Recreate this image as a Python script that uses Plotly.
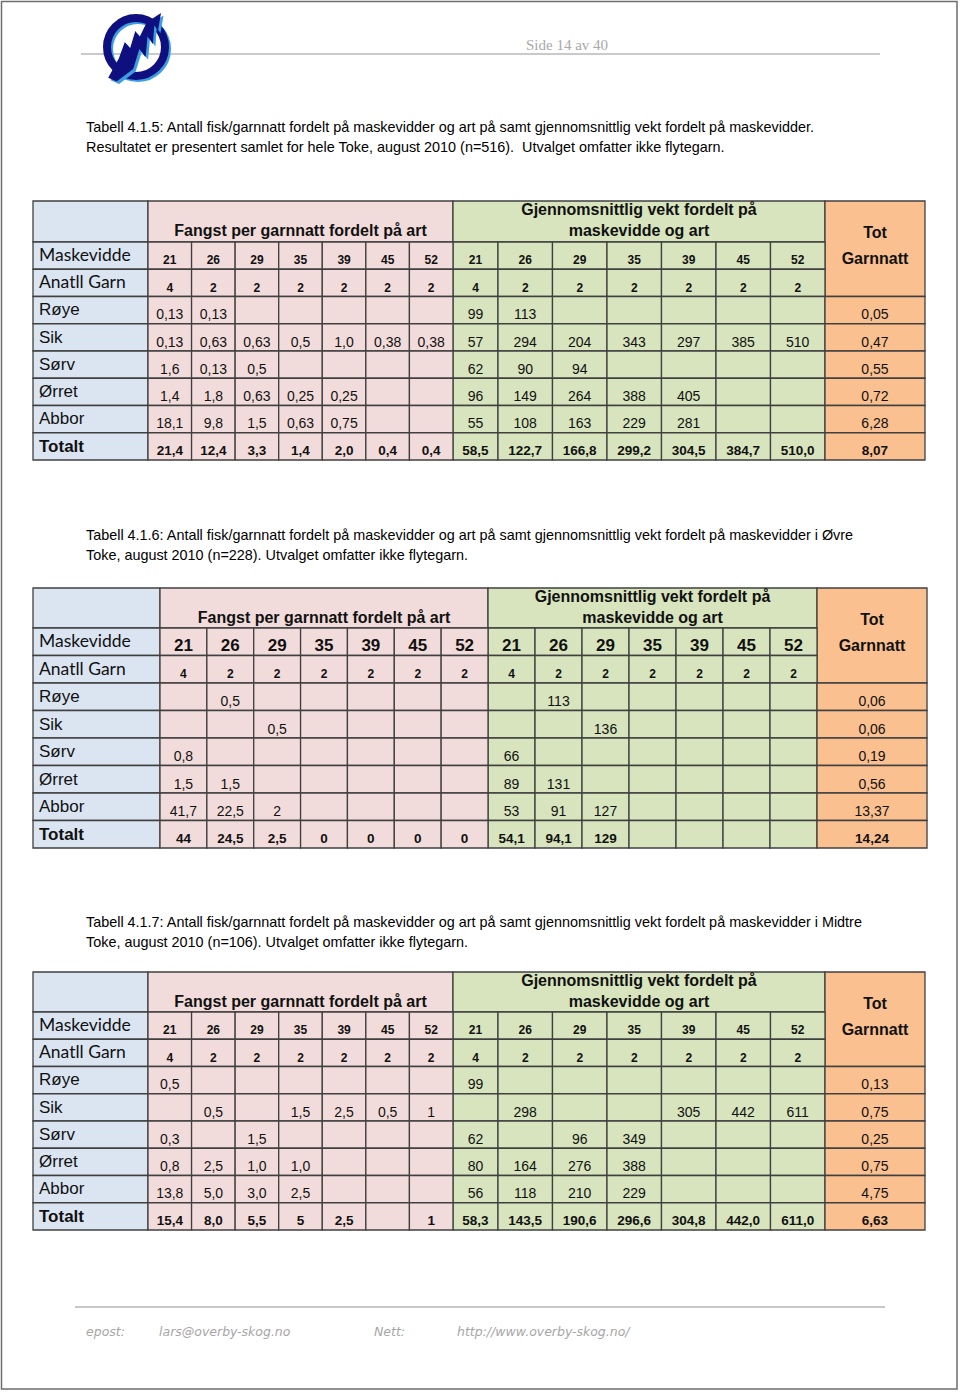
import plotly.graph_objects as go

W, H = 960, 1393

# ---------------- data ----------------
maskevidde = [21, 26, 29, 35, 39, 45, 52]
antall_garn = [4, 2, 2, 2, 2, 2, 2]
arter = ["Røye", "Sik", "Sørv", "Ørret", "Abbor"]

# Tabell 4.1.5 - hele Toke
t5_fangst = [
    ["0,13", "0,13", "", "", "", "", ""],
    ["0,13", "0,63", "0,63", "0,5", "1,0", "0,38", "0,38"],
    ["1,6", "0,13", "0,5", "", "", "", ""],
    ["1,4", "1,8", "0,63", "0,25", "0,25", "", ""],
    ["18,1", "9,8", "1,5", "0,63", "0,75", "", ""],
]
t5_fangst_sum = ["21,4", "12,4", "3,3", "1,4", "2,0", "0,4", "0,4"]
t5_vekt = [
    ["99", "113", "", "", "", "", ""],
    ["57", "294", "204", "343", "297", "385", "510"],
    ["62", "90", "94", "", "", "", ""],
    ["96", "149", "264", "388", "405", "", ""],
    ["55", "108", "163", "229", "281", "", ""],
]
t5_vekt_sum = ["58,5", "122,7", "166,8", "299,2", "304,5", "384,7", "510,0"]
t5_garnnatt = ["0,05", "0,47", "0,55", "0,72", "6,28", "8,07"]

# Tabell 4.1.6 - Øvre Toke
t6_fangst = [
    ["", "0,5", "", "", "", "", ""],
    ["", "", "0,5", "", "", "", ""],
    ["0,8", "", "", "", "", "", ""],
    ["1,5", "1,5", "", "", "", "", ""],
    ["41,7", "22,5", "2", "", "", "", ""],
]
t6_fangst_sum = ["44", "24,5", "2,5", "0", "0", "0", "0"]
t6_vekt = [
    ["", "113", "", "", "", "", ""],
    ["", "", "136", "", "", "", ""],
    ["66", "", "", "", "", "", ""],
    ["89", "131", "", "", "", "", ""],
    ["53", "91", "127", "", "", "", ""],
]
t6_vekt_sum = ["54,1", "94,1", "129", "", "", "", ""]
t6_garnnatt = ["0,06", "0,06", "0,19", "0,56", "13,37", "14,24"]

# Tabell 4.1.7 - Midtre Toke
t7_fangst = [
    ["0,5", "", "", "", "", "", ""],
    ["", "0,5", "", "1,5", "2,5", "0,5", "1"],
    ["0,3", "", "1,5", "", "", "", ""],
    ["0,8", "2,5", "1,0", "1,0", "", "", ""],
    ["13,8", "5,0", "3,0", "2,5", "", "", ""],
]
t7_fangst_sum = ["15,4", "8,0", "5,5", "5", "2,5", "", "1"]
t7_vekt = [
    ["99", "", "", "", "", "", ""],
    ["", "298", "", "", "305", "442", "611"],
    ["62", "", "96", "349", "", "", ""],
    ["80", "164", "276", "388", "", "", ""],
    ["56", "118", "210", "229", "", "", ""],
]
t7_vekt_sum = ["58,3", "143,5", "190,6", "296,6", "304,8", "442,0", "611,0"]
t7_garnnatt = ["0,13", "0,75", "0,25", "0,75", "4,75", "6,63"]

captions = [
    ["Tabell 4.1.5: Antall fisk/garnnatt fordelt på maskevidder og art på samt gjennomsnittlig vekt fordelt på maskevidder.",
     "Resultatet er presentert samlet for hele Toke, august 2010 (n=516).  Utvalget omfatter ikke flytegarn."],
    ["Tabell 4.1.6: Antall fisk/garnnatt fordelt på maskevidder og art på samt gjennomsnittlig vekt fordelt på maskevidder i Øvre",
     "Toke, august 2010 (n=228). Utvalget omfatter ikke flytegarn."],
    ["Tabell 4.1.7: Antall fisk/garnnatt fordelt på maskevidder og art på samt gjennomsnittlig vekt fordelt på maskevidder i Midtre",
     "Toke, august 2010 (n=106). Utvalget omfatter ikke flytegarn."],
]

# ---------------- style ----------------
BLUE = "#dbe5f1"
PINK = "#f2dcdb"
GREEN = "#d7e4bd"
ORANGE = "#fac090"
LINE = "#404040"
ARIAL = "Liberation Sans, Arial, sans-serif"
CALIBRI = "Lato, Carlito, Calibri, sans-serif"

fig = go.Figure()
texts = {}


def put(style, x, y, s):
    if s == "":
        return
    xs, ys, ts = texts.setdefault(style, ([], [], []))
    xs.append(x)
    ys.append(y)
    ts.append(s)


def cell(x0, x1, y0, y1, color):
    fig.add_shape(type="rect", xref="x", yref="y", x0=x0, x1=x1, y0=y0, y1=y1,
                  fillcolor=color, line=dict(color=LINE, width=1.3), layer="below")


def table(top, left, label_w, fw, vw, tot_w, head_h, row_h, mask_size,
          fangst, fangst_sum, vekt, vekt_sum, garnnatt):
    fx = [left + label_w]
    for w in fw:
        fx.append(fx[-1] + w)
    vx = [fx[-1]]
    for w in vw:
        vx.append(vx[-1] + w)
    tx0, tx1 = vx[-1], vx[-1] + tot_w
    ys = [top, top + head_h]
    for i in range(8):
        ys.append(ys[-1] + row_h)

    # header cells
    cell(left, fx[0], ys[0], ys[1], BLUE)
    cell(fx[0], fx[-1], ys[0], ys[1], PINK)
    cell(vx[0], vx[-1], ys[0], ys[1], GREEN)
    cell(tx0, tx1, ys[0], ys[3], ORANGE)
    put(("b", 16, ARIAL, "middle center"), (fx[0] + fx[-1]) / 2, top + 31,
        "Fangst per garnnatt fordelt på art")
    put(("b", 16, ARIAL, "middle center"), (vx[0] + vx[-1]) / 2, top + 20.5,
        "Gjennomsnittlig vekt fordelt på<br>maskevidde og art")
    put(("b", 16, ARIAL, "middle center"), (tx0 + tx1) / 2, top + 33, "Tot")
    put(("b", 16, ARIAL, "middle center"), (tx0 + tx1) / 2, top + 59, "Garnnatt")

    labels = ["Maskevidde", "Anatll Garn"] + arter + ["Totalt"]
    rows = ([[str(m) for m in maskevidde] * 2, [str(g) for g in antall_garn] * 2]
            + [fangst[i] + vekt[i] for i in range(5)]
            + [fangst_sum + vekt_sum])
    for r in range(8):
        y0, y1 = ys[r + 1], ys[r + 2]
        cell(left, fx[0], y0, y1, BLUE)
        for c in range(7):
            cell(fx[c], fx[c + 1], y0, y1, PINK)
            cell(vx[c], vx[c + 1], y0, y1, GREEN)
        if r >= 2:
            cell(tx0, tx1, y0, y1, ORANGE)

        if r < 2:
            lab_style = ("n", 17.5, CALIBRI, "middle right")
        elif r == 7:
            lab_style = ("b", 17, ARIAL, "middle right")
        else:
            lab_style = ("n", 17, ARIAL, "middle right")
        put(lab_style, left + 6, (y0 + y1) / 2 + 1, labels[r])

        if r == 0:
            st = ("b", mask_size, ARIAL, "middle center")
        elif r == 1:
            st = ("b", 12, ARIAL, "middle center")
        elif r == 7:
            st = ("b", 13.5, ARIAL, "middle center")
        else:
            st = ("n", 14, ARIAL, "middle center")
        yt = y1 - 8 if mask_size < 15 or r > 0 else y1 - 9
        edges = fx[:-1] + vx[:-1]
        rights = fx[1:] + vx[1:]
        for c in range(14):
            put(st, (edges[c] + rights[c]) / 2, yt, rows[r][c])
        if r >= 2:
            put(st, (tx0 + tx1) / 2, yt, garnnatt[r - 2])


table(201, 33, 115, [43.57] * 7, [45] + [54.5] * 6, 100, 41, 27.25, 12,
      t5_fangst, t5_fangst_sum, t5_vekt, t5_vekt_sum, t5_garnnatt)
table(588, 33, 127, [46.86] * 7, [47] * 7, 110, 40, 27.5, 17,
      t6_fangst, t6_fangst_sum, t6_vekt, t6_vekt_sum, t6_garnnatt)
table(972, 33, 115, [43.57] * 7, [45] + [54.5] * 6, 100, 40, 27.25, 12,
      t7_fangst, t7_fangst_sum, t7_vekt, t7_vekt_sum, t7_garnnatt)

for (bold, size, family, pos), (xs, ys, ts) in texts.items():
    if bold == "b":
        ts = ["<b>" + t + "</b>" for t in ts]
    fig.add_trace(go.Scatter(
        x=xs, y=ys, text=ts, mode="text", textposition=pos,
        textfont=dict(family=family, size=size, color="#111111"),
        hoverinfo="skip", showlegend=False, cliponaxis=False))

# captions
for (l1, l2), y in zip(captions, [127, 535, 922]):
    for line, dy in [(l1, 0), (l2, 20)]:
        fig.add_annotation(x=84, y=y + dy, xref="x", yref="y", text=line,
                           showarrow=False, xanchor="left", yanchor="middle",
                           font=dict(family=ARIAL, size=14.4, color="#000000"))

# page furniture
fig.add_shape(type="rect", x0=1.5, x1=957, y0=1.5, y1=1389, xref="x", yref="y",
              line=dict(color="#6e6e6e", width=1.5), layer="below")
fig.add_shape(type="line", x0=81, x1=880, y0=54, y1=54, xref="x", yref="y",
              line=dict(color="#b8b8b8", width=1.5))
fig.add_shape(type="line", x0=75, x1=885, y0=1307, y1=1307, xref="x", yref="y",
              line=dict(color="#c8c8c8", width=2))
fig.add_annotation(x=567, y=45, xref="x", yref="y", text="Side 14 av 40", showarrow=False,
                   font=dict(family="Liberation Serif, serif", size=15, color="#a8a8a8"))
for txt, x in [("epost:", 84), ("lars@overby-skog.no", 157), ("Nett:", 372),
               ("http://www.overby-skog.no/", 455)]:
    fig.add_annotation(x=x, y=1331, xref="x", yref="y", text="<i>" + txt + "</i>",
                       showarrow=False, xanchor="left", yanchor="middle",
                       font=dict(family="DejaVu Sans, sans-serif", size=12.5, color="#a6a6a6"))

# logo
fig.add_shape(type="circle", x0=109, x1=167, y0=20, y1=78, xref="x", yref="y",
              line=dict(color="#3a9ee0", width=8))
fig.add_shape(type="circle", x0=107, x1=165, y0=18, y1=76, xref="x", yref="y",
              line=dict(color="#0f0f80", width=8))
tip = (161, 13)
u = (-0.59, 0.80)
v = (0.80, 0.59)
outline = [(0, 0), (16, 8), (14, 2), (30, 12), (27, 3), (45, 14), (42, 4), (62, 11),
           (82, 5), (84, -4), (62, -7), (45, -12), (47, -4), (30, -10), (32, -3), (16, -6)]


def tree_path(dx, dy):
    pts = [(tip[0] + a * u[0] + p * v[0] + dx, tip[1] + a * u[1] + p * v[1] + dy) for a, p in outline]
    return "M " + " L ".join(f"{x:.1f},{y:.1f}" for x, y in pts) + " Z"


fig.add_shape(type="path", path=tree_path(2.5, 2.5), xref="x", yref="y",
              fillcolor="#3a9ee0", line=dict(width=0))
fig.add_shape(type="path", path=tree_path(0, 0), xref="x", yref="y",
              fillcolor="#0f0f80", line=dict(width=0))

fig.update_layout(
    width=W, height=H,
    margin=dict(l=0, r=0, t=0, b=0),
    paper_bgcolor="white", plot_bgcolor="white",
    xaxis=dict(range=[0, W], visible=False, fixedrange=True),
    yaxis=dict(range=[H, 0], visible=False, fixedrange=True),
    showlegend=False,
)
fig.write_html("out.html", config={"displayModeBar": False},
               post_script="document.body.style.margin='0';")
